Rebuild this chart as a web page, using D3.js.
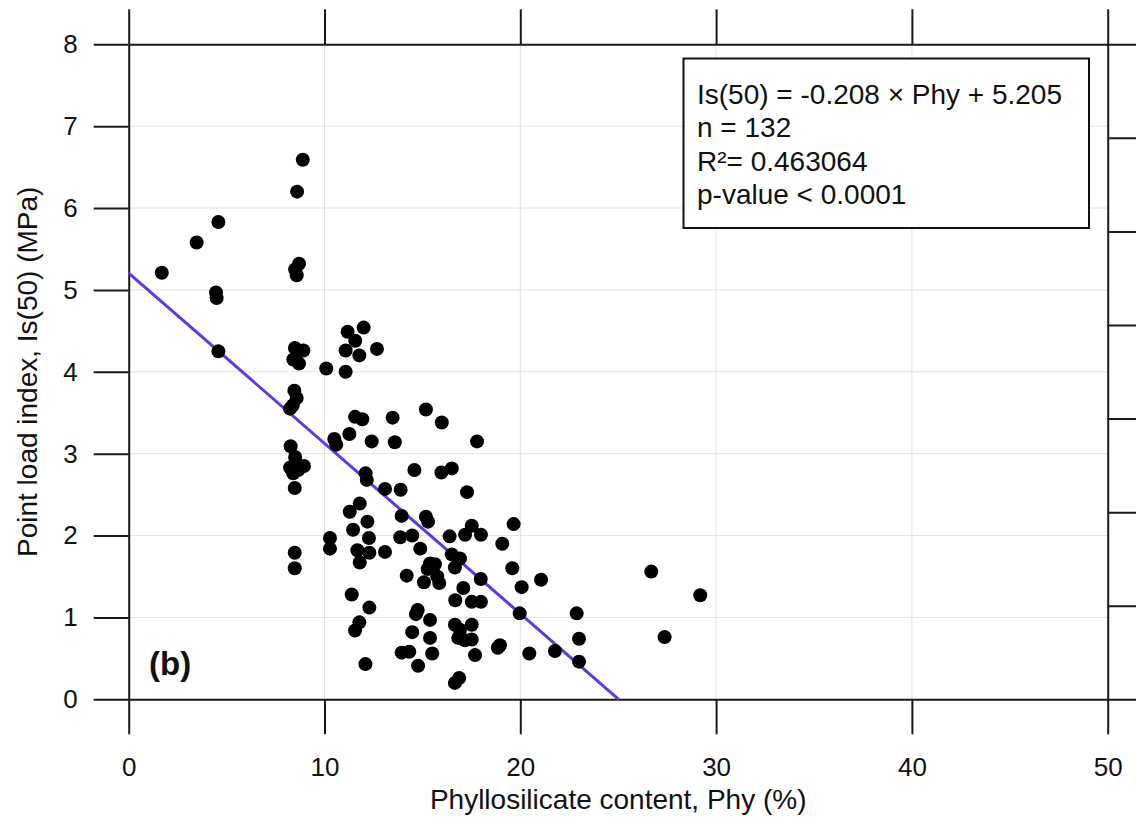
<!DOCTYPE html>
<html>
<head>
<meta charset="utf-8">
<script src="https://cdn.jsdelivr.net/npm/d3@7"></script>
<style>
  html, body { margin: 0; padding: 0; background: #fff; }
  svg { display: block; font-family: Arial, "Liberation Sans", sans-serif; }
</style>
</head>
<body>
<svg id="chart" width="1136" height="819"></svg>
<script>
// ---- data ----
const phy = [1.69,3.47,4.58,4.46,4.49,4.58,8.89,8.60,8.70,8.50,8.58,8.49,8.92,8.41,8.70,8.46,8.58,8.38,8.24,8.27,
  8.50,8.24,8.95,8.66,8.40,8.58,8.48,8.48,8.48,10.09,11.08,11.18,12.00,11.57,11.08,11.78,12.68,15.18,15.99,11.56,
  11.93,13.48,11.27,10.50,10.60,12.41,13.59,17.79,12.10,12.16,14.59,15.97,16.50,13.09,13.89,17.28,11.80,11.29,12.19,11.46,
  12.27,13.94,15.18,15.29,19.66,17.52,13.87,14.48,16.39,17.18,17.99,19.08,10.28,10.28,11.68,12.29,13.09,14.89,11.80,16.50,
  16.92,15.39,15.64,15.27,16.66,19.59,17.98,14.20,15.08,15.76,15.86,20.07,21.06,17.09,16.68,17.52,17.99,11.39,12.29,14.76,
  14.67,19.97,11.78,11.56,15.39,16.66,16.92,17.52,16.83,17.18,17.52,14.48,15.39,18.96,18.85,20.46,13.94,14.33,15.50,17.69,
  14.78,12.09,16.66,16.88,26.69,29.19,27.37,22.88,23.00,23.00,21.77,8.45];
const is50 = [5.21,5.58,5.83,4.97,4.90,4.25,6.59,6.20,5.32,5.25,5.18,4.29,4.26,4.15,4.10,3.77,3.68,3.59,3.55,3.09,
  2.96,2.83,2.85,2.80,2.76,2.88,2.58,1.79,1.60,4.04,4.00,4.49,4.54,4.38,4.26,4.20,4.28,3.54,3.38,3.45,
  3.42,3.44,3.24,3.18,3.11,3.15,3.14,3.15,2.76,2.68,2.80,2.77,2.82,2.57,2.56,2.53,2.39,2.29,2.17,2.07,
  1.97,2.24,2.23,2.17,2.14,2.12,1.98,2.00,1.99,2.01,2.01,1.90,1.97,1.84,1.82,1.79,1.80,1.84,1.67,1.77,
  1.72,1.66,1.65,1.59,1.61,1.60,1.47,1.51,1.43,1.50,1.42,1.37,1.46,1.36,1.21,1.19,1.19,1.28,1.12,1.09,
  1.04,1.05,0.94,0.84,0.97,0.91,0.85,0.91,0.75,0.72,0.73,0.82,0.75,0.66,0.63,0.56,0.57,0.58,0.56,0.54,
  0.41,0.43,0.20,0.26,1.56,1.27,0.76,1.05,0.74,0.46,0.59,2.79];
const xTicks = [0, 10, 20, 30, 40, 50];
const yTicks = [0, 1, 2, 3, 4, 5, 6, 7, 8];
const rightTicks = [0, 1, 2, 3, 4, 5, 6, 7];
const slope = -0.208, intercept = 5.205;
const legendLines = ["Is(50) = -0.208 \u00d7 Phy + 5.205", "n = 132", "R\u00b2= 0.463064", "p-value < 0.0001"];
const panelLabel = "(b)";
const xTitle = "Phyllosilicate content, Phy (%)";
const yTitle = "Point load index, Is(50) (MPa)";

// ---- layout ----
const L = 128.7, R = 1107.7, T = 44.3, B = 699.3;
const svg = d3.select("#chart");
const x = d3.scaleLinear().domain([0, 50]).range([L, R]);
const y = d3.scaleLinear().domain([0, 8]).range([B, T]);
const yR = d3.scaleLinear().domain([0, 7]).range([B, T]);
const axisColor = "#1a1a1a";

// grid
const grid = svg.append("g");
grid.selectAll("line.gx").data(xTicks.slice(1, -1)).join("line")
  .attr("x1", d => x(d)).attr("x2", d => x(d)).attr("y1", T).attr("y2", B)
  .attr("stroke", "#e3e3e3").attr("stroke-width", 1);
grid.selectAll("line.gy").data(yTicks.slice(1, -1)).join("line")
  .attr("x1", L).attr("x2", R).attr("y1", d => y(d)).attr("y2", d => y(d))
  .attr("stroke", "#e3e3e3").attr("stroke-width", 1);

function styleAxis(g) {
  g.selectAll("path.domain").attr("stroke", axisColor).attr("stroke-width", 2);
  g.selectAll(".tick line").attr("stroke", axisColor).attr("stroke-width", 2);
  g.selectAll("text").attr("fill", "#111").style("font-size", "26px")
    .style("font-family", "Arial, 'Liberation Sans', sans-serif");
}

// bottom
const gB = svg.append("g").attr("transform", `translate(0,${B})`)
  .call(d3.axisBottom(x).tickValues(xTicks).tickSize(35).tickSizeOuter(0).tickPadding(8).tickFormat(d3.format("d")));
styleAxis(gB);
gB.selectAll("text").attr("dy", null).attr("y", 77);
// top
const gT = svg.append("g").attr("transform", `translate(0,${T})`)
  .call(d3.axisTop(x).tickValues(xTicks).tickSize(35).tickSizeOuter(0).tickFormat(""));
styleAxis(gT);
// left
const gL = svg.append("g").attr("transform", `translate(${L},0)`)
  .call(d3.axisLeft(y).tickValues(yTicks).tickSize(35).tickSizeOuter(0).tickPadding(16).tickFormat(d3.format("d")));
styleAxis(gL);
// right (unlabelled)
const gR = svg.append("g").attr("transform", `translate(${R},0)`)
  .call(d3.axisRight(yR).tickValues(rightTicks).tickSize(35).tickSizeOuter(0).tickFormat(""));
styleAxis(gR);

// regression line
const xEnd = -intercept / slope;
svg.append("line")
  .attr("x1", x(0)).attr("y1", y(intercept))
  .attr("x2", x(xEnd)).attr("y2", y(0))
  .attr("stroke", "#6236e3").attr("stroke-width", 3);

// points
svg.append("g").selectAll("circle").data(phy.map((p, i) => [p, is50[i]])).join("circle")
  .attr("cx", d => x(d[0])).attr("cy", d => y(d[1])).attr("r", 7).attr("fill", "#000");

// legend box
const lg = svg.append("g");
lg.append("rect").attr("x", 683.5).attr("y", 58.5).attr("width", 405.5).attr("height", 169.5)
  .attr("fill", "#fff").attr("stroke", "#111").attr("stroke-width", 2);
lg.selectAll("text").data(legendLines).join("text")
  .attr("x", 697).attr("y", (d, i) => 104 + i * 33.3)
  .attr("font-size", 28).attr("fill", "#111").text(d => d);

// panel label
svg.append("text").attr("x", 149).attr("y", 675).attr("font-size", 33).attr("font-weight", "bold")
  .attr("fill", "#111").text(panelLabel);

// axis titles
svg.append("text").attr("x", (L + R) / 2).attr("y", 809).attr("text-anchor", "middle")
  .attr("font-size", 28).attr("fill", "#111").text(xTitle);
svg.append("text").attr("transform", `translate(37,${(T + B) / 2}) rotate(-90)`)
  .attr("text-anchor", "middle").attr("font-size", 28).attr("fill", "#111").text(yTitle);
</script>
</body>
</html>
